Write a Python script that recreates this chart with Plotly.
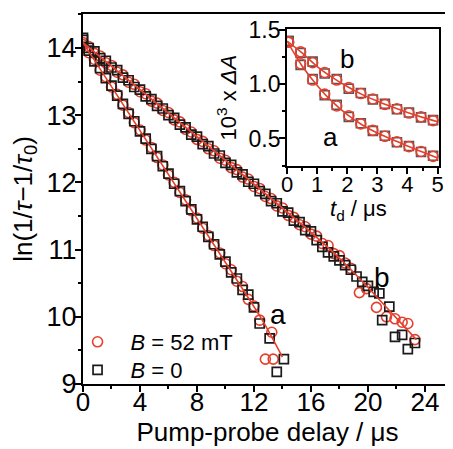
import plotly.graph_objects as go

# ---------------- main panel data ----------------
# curve a, B = 0 (squares)
sq_a_t = [0.0, 0.4, 0.8, 1.2, 1.6, 2.0, 2.4, 2.8, 3.2, 3.6, 4.0, 4.4, 4.8, 5.2, 5.6, 6.0,
          6.4, 6.8, 7.2, 7.6, 8.0, 8.4, 8.8, 9.2, 9.6, 10.0, 10.4, 10.8, 11.2, 11.6, 12.0,
          12.4, 13.1, 13.6, 14.1]
sq_a_v = [14.15, 13.96, 13.80, 13.70, 13.55, 13.44, 13.29, 13.17, 13.02, 12.91, 12.76, 12.65,
          12.50, 12.39, 12.24, 12.13, 11.98, 11.87, 11.72, 11.60, 11.45, 11.34, 11.19, 11.08,
          10.93, 10.82, 10.66, 10.57, 10.40, 10.33, 10.14, 9.90, 9.68, 9.18, 9.37]
# curve a, B = 52 mT (circles)
ci_a_t = [0.0, 0.4, 0.8, 1.2, 1.6, 2.0, 2.4, 2.8, 3.2, 3.6, 4.0, 4.4, 4.8, 5.2, 5.6, 6.0,
          6.4, 6.8, 7.2, 7.6, 8.0, 8.4, 8.8, 9.2, 9.6, 10.0, 10.4, 10.8, 11.2, 11.6, 12.0,
          12.4, 12.8, 13.25, 13.35]
ci_a_v = [14.08, 13.93, 13.83, 13.67, 13.57, 13.42, 13.31, 13.15, 13.04, 12.89, 12.78, 12.63,
          12.52, 12.37, 12.26, 12.11, 12.00, 11.85, 11.74, 11.58, 11.47, 11.32, 11.21, 11.06,
          10.95, 10.79, 10.70, 10.53, 10.45, 10.26, 10.16, 9.95, 9.37, 9.77, 9.37]
# curve b, B = 0 (squares)
sq_b_t = [0.0, 0.4, 0.8, 1.2, 1.6, 2.0, 2.4, 2.8, 3.2, 3.6, 4.0, 4.4, 4.8, 5.2, 5.6, 6.0,
          6.4, 6.8, 7.2, 7.6, 8.0, 8.4, 8.8, 9.2, 9.6, 10.0, 10.4, 10.8, 11.2, 11.6, 12.0,
          12.4, 12.8, 13.2, 13.6, 14.0, 14.4, 14.8, 15.2, 15.6, 16.0, 16.4, 16.8, 17.2, 17.6,
          18.0, 18.4, 18.8, 19.2, 19.6, 20.0, 20.4, 20.8, 21.0, 21.5, 21.9, 22.4, 22.8, 23.3]
sq_b_v = [14.12, 14.00, 13.95, 13.85, 13.81, 13.71, 13.67, 13.56, 13.52, 13.42, 13.38, 13.28,
          13.24, 13.14, 13.10, 13.00, 12.96, 12.86, 12.82, 12.71, 12.68, 12.57, 12.54, 12.43,
          12.40, 12.29, 12.26, 12.15, 12.12, 12.01, 11.98, 11.87, 11.83, 11.72, 11.69, 11.57,
          11.55, 11.43, 11.41, 11.29, 11.27, 11.14, 11.04, 10.96, 10.90, 10.84, 10.77, 10.70,
          10.60, 10.52, 10.46, 10.37, 10.35, 9.95, 10.15, 9.70, 9.73, 9.52, 9.61]
# curve b, B = 52 mT (circles)
ci_b_t = [0.0, 0.4, 0.8, 1.2, 1.6, 2.0, 2.4, 2.8, 3.2, 3.6, 4.0, 4.4, 4.8, 5.2, 5.6, 6.0,
          6.4, 6.8, 7.2, 7.6, 8.0, 8.4, 8.8, 9.2, 9.6, 10.0, 10.4, 10.8, 11.2, 11.6, 12.0,
          12.4, 12.8, 13.2, 13.6, 14.0, 14.4, 14.8, 15.2, 15.6, 16.0, 16.4, 16.8, 17.2, 17.6,
          18.0, 18.4, 18.8, 19.4, 19.9, 20.6, 21.3, 21.9, 22.4, 22.8, 23.3]
ci_b_v = [14.05, 14.02, 13.92, 13.88, 13.78, 13.74, 13.64, 13.60, 13.49, 13.46, 13.35, 13.32,
          13.21, 13.18, 13.07, 13.04, 12.93, 12.90, 12.79, 12.75, 12.64, 12.61, 12.50, 12.47,
          12.36, 12.33, 12.22, 12.19, 12.08, 12.05, 11.94, 11.91, 11.79, 11.76, 11.65, 11.62,
          11.51, 11.48, 11.37, 11.34, 11.23, 11.20, 11.09, 11.06, 10.94, 10.91, 10.80, 10.72,
          10.36, 10.42, 10.14, 10.00, 9.97, 9.92, 9.90, 9.66]
# fitted curves (main panel)
fit_a_t = [0.0, 11.0, 12.5, 13.3, 14.0]
fit_a_v = [14.08, 10.48, 9.98, 9.68, 9.40]
fit_b_t = [0.0, 17.0, 19.0, 21.0, 23.4]
fit_b_v = [14.08, 11.07, 10.66, 10.21, 9.66]

# ---------------- inset data ----------------
in_t = [0.05, 0.45, 0.85, 1.25, 1.65, 2.05, 2.45, 2.85, 3.25, 3.65, 4.05, 4.45, 4.85]
in_ci_a = [1.39, 1.19, 1.04, 0.91, 0.80, 0.71, 0.635, 0.575, 0.52, 0.47, 0.425, 0.38, 0.335]
in_sq_a = [1.40, 1.18, 1.05, 0.90, 0.81, 0.70, 0.64, 0.57, 0.525, 0.465, 0.43, 0.375, 0.34]
in_ci_b = [1.39, 1.30, 1.20, 1.11, 1.04, 0.97, 0.915, 0.865, 0.815, 0.775, 0.735, 0.70, 0.665]
in_sq_b = [1.40, 1.29, 1.21, 1.10, 1.05, 0.96, 0.92, 0.86, 0.82, 0.77, 0.74, 0.695, 0.67]
in_fit_t = [0.0, 0.5, 1.0, 1.5, 2.0, 2.5, 3.0, 3.5, 4.0, 4.5, 5.0]
in_fit_a = [1.40, 1.17, 0.99, 0.84, 0.72, 0.625, 0.55, 0.49, 0.43, 0.375, 0.32]
in_fit_b = [1.40, 1.29, 1.165, 1.065, 0.98, 0.905, 0.845, 0.79, 0.74, 0.695, 0.655]

RED = "#e5402e"
SQ = "#1a1a1a"
FONT = "Liberation Sans, Arial, sans-serif"

fig = go.Figure()

circ = dict(symbol="circle-open", size=10, color=RED, line=dict(width=1.6, color=RED))
sqr = dict(symbol="square-open", size=9, color=SQ, line=dict(width=1.7, color=SQ))

fig.add_trace(go.Scatter(x=ci_a_t + ci_b_t, y=ci_a_v + ci_b_v, mode="markers",
                         marker=circ, name="<i>B</i> = 52 mT", legend="legend",
                         xaxis="x", yaxis="y"))
fig.add_trace(go.Scatter(x=sq_a_t + sq_b_t, y=sq_a_v + sq_b_v, mode="markers",
                         marker=sqr, name="<i>B</i> = 0", legend="legend2",
                         xaxis="x", yaxis="y"))
for ft, fv in [(fit_a_t, fit_a_v), (fit_b_t, fit_b_v)]:
    fig.add_trace(go.Scatter(x=ft, y=fv, mode="lines", line=dict(color=RED, width=1.6, shape="spline"),
                             showlegend=False, hoverinfo="skip", xaxis="x", yaxis="y"))

# inset
in_sqr = dict(symbol="square-open", size=9, color="#555555", line=dict(width=1.6, color="#555555"))
in_circ = dict(symbol="circle-open", size=10, color=RED, line=dict(width=1.6, color=RED))
for vals in [in_sq_a, in_sq_b]:
    fig.add_trace(go.Scatter(x=in_t, y=vals, mode="markers", marker=in_sqr, showlegend=False,
                             xaxis="x2", yaxis="y2"))
for vals in [in_ci_a, in_ci_b]:
    fig.add_trace(go.Scatter(x=in_t, y=vals, mode="markers", marker=in_circ, showlegend=False,
                             xaxis="x2", yaxis="y2"))
for vals in [in_fit_a, in_fit_b]:
    fig.add_trace(go.Scatter(x=in_fit_t, y=vals, mode="lines", line=dict(color=RED, width=1.6, shape="spline"),
                             showlegend=False, hoverinfo="skip", xaxis="x2", yaxis="y2"))

axis_common = dict(showline=True, linewidth=2, linecolor="black", mirror=True, ticks="outside",
                   tickwidth=2, ticklen=6, tickcolor="black", showgrid=False, zeroline=False,
                   automargin=False)

leg_common = dict(xanchor="left", yanchor="middle", bgcolor="rgba(0,0,0,0)",
                  font=dict(size=22), itemwidth=56, tracegroupgap=0)

# the page body adds an 8 px offset, so the figure is 8 px smaller and margins shifted
fig.update_layout(
    width=445, height=441,
    margin=dict(l=75, r=1, t=6, b=65),
    paper_bgcolor="white", plot_bgcolor="white",
    font=dict(family=FONT, color="black", size=26),
    showlegend=True,
    legend=dict(x=-0.05, y=0.1135, **leg_common),
    legend2=dict(x=-0.05, y=0.0378, **leg_common),
    xaxis=dict(domain=[0, 1], range=[0, 25.9], dtick=4, tick0=0, ticklabelstandoff=-12,
               minor=dict(ticks="outside", ticklen=3, tickwidth=2, dtick=2, tickcolor="black"),
               title=dict(text="Pump-probe delay / μs", font=dict(size=26), standoff=4),
               tickfont=dict(size=26), **axis_common),
    yaxis=dict(domain=[0, 1], range=[9, 14.506], dtick=1, tick0=9, ticklabelstandoff=-7,
               minor=dict(ticks="outside", ticklen=3, tickwidth=2, dtick=0.5, tickcolor="black"),
               title=dict(text="ln(1/<i>τ</i>−1/<i>τ</i><sub>0</sub>)", font=dict(size=26), standoff=9),
               tickfont=dict(size=27), **axis_common),
    xaxis2=dict(domain=[0.553, 0.965], anchor="y2", range=[0, 5.05], dtick=1, tick0=0,
                ticklabelstandoff=-8,
                minor=dict(ticks="outside", ticklen=3, tickwidth=2, dtick=0.5, tickcolor="black"),
                tickfont=dict(size=22), **axis_common),
    yaxis2=dict(domain=[0.589, 0.959], anchor="x2", range=[0.245, 1.51], dtick=0.5, tick0=0.5,
                tickformat=".1f", ticklabelstandoff=-6,
                minor=dict(ticks="outside", ticklen=3, tickwidth=2, dtick=0.25, tickcolor="black"),
                title=dict(text="10<sup>3</sup> x <i>ΔA</i>", font=dict(size=22), standoff=6),
                tickfont=dict(size=23), **axis_common),
    annotations=[
        dict(x=0.47, y=-0.32, xref="x2 domain", yref="y2 domain", text="<i>t</i><sub>d</sub> / μs",
             showarrow=False, font=dict(size=22), xanchor="center", yanchor="middle"),
        dict(x=13.7, y=10.03, xref="x", yref="y", text="a", showarrow=False, font=dict(size=28)),
        dict(x=21.0, y=10.59, xref="x", yref="y", text="b", showarrow=False, font=dict(size=28)),
        dict(x=1.98, y=1.23, xref="x2", yref="y2", text="b", showarrow=False, font=dict(size=26)),
        dict(x=1.44, y=0.51, xref="x2", yref="y2", text="a", showarrow=False, font=dict(size=26)),
    ],
)

fig.write_html("out.html")
